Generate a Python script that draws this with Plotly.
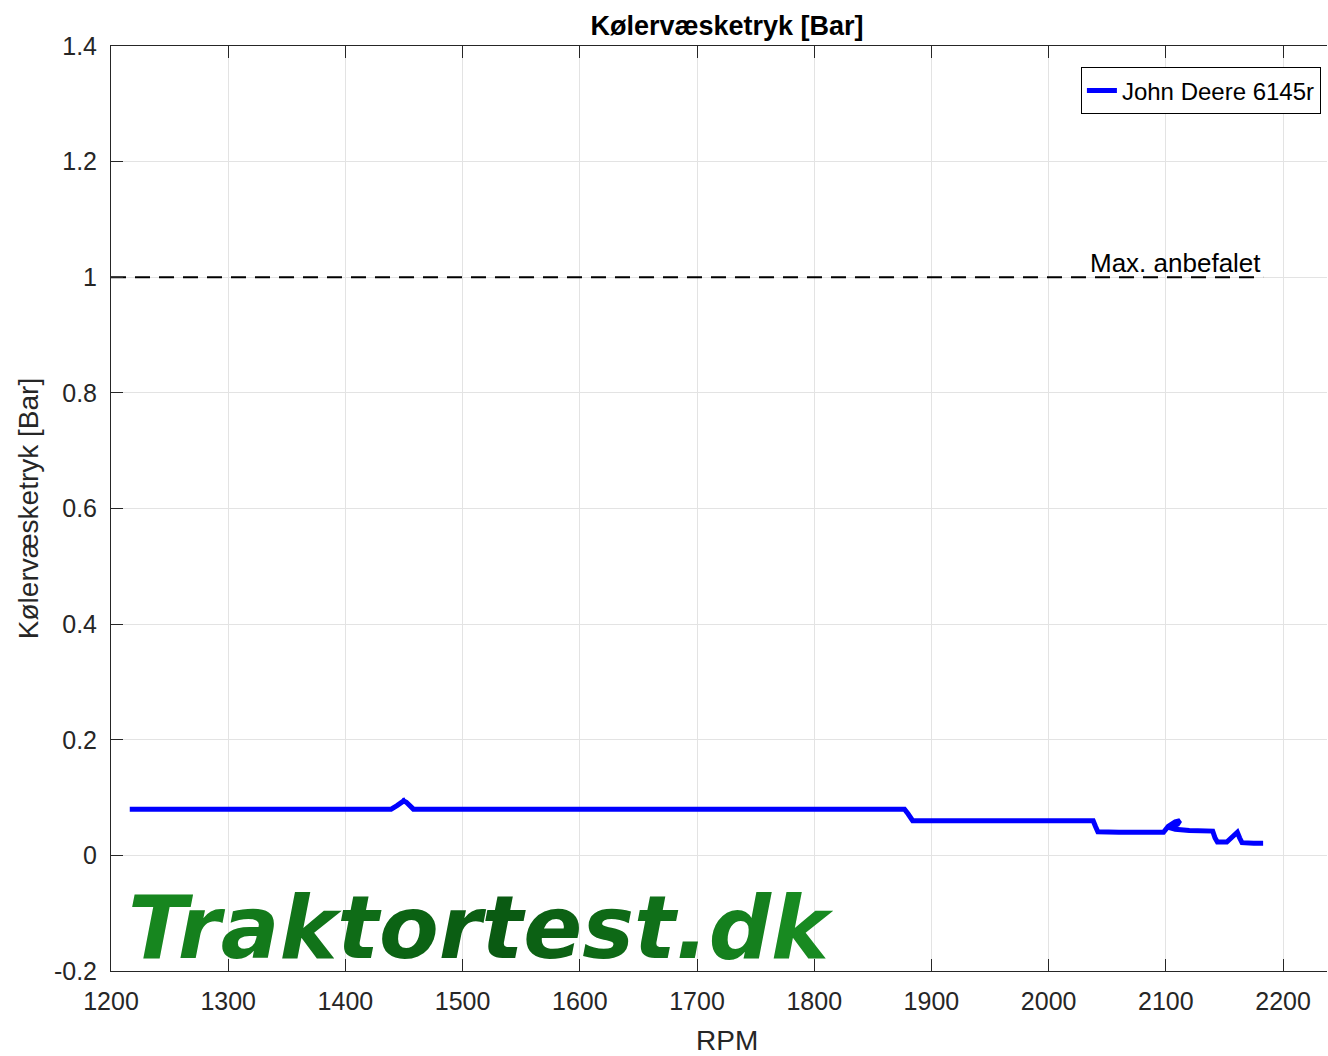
import plotly.graph_objects as go

# --- data ---
rpm = [1216, 1300, 1400, 1439, 1444, 1448, 1451, 1449, 1452, 1455, 1458, 1500, 1600, 1700, 1800,
       1877, 1880, 1884, 1900, 2000, 2038, 2040, 2042, 2060, 2080, 2098, 2102, 2108, 2112, 2110,
       2103, 2108, 2120, 2140, 2142, 2144, 2152, 2158, 2161, 2163, 2165, 2175, 2183]
pressure = [0.08, 0.08, 0.08, 0.08, 0.086, 0.093, 0.096, 0.095, 0.092, 0.085, 0.08, 0.08, 0.08, 0.08, 0.08,
            0.08, 0.072, 0.06, 0.06, 0.06, 0.06, 0.05, 0.041, 0.04, 0.04, 0.04, 0.05, 0.058, 0.06, 0.054,
            0.048, 0.045, 0.043, 0.042, 0.03, 0.023, 0.023, 0.033, 0.04, 0.03, 0.022, 0.021, 0.021]
limit_x = [1200, 2183]
limit_y = [1, 1]
series_name = "John Deere 6145r"
limit_label = "Max. anbefalet"
x_ticks = [1200, 1300, 1400, 1500, 1600, 1700, 1800, 1900, 2000, 2100, 2200]
y_ticks = [-0.2, 0, 0.2, 0.4, 0.6, 0.8, 1, 1.2, 1.4]
y_ticktext = ["-0.2", "0", "0.2", "0.4", "0.6", "0.8", "1", "1.2", "1.4"]
watermark = "Traktortest.dk"
wm_colors = ["#17861f", "#15801d", "#137a1b", "#117319", "#0f6c17", "#0c6314", "#0b5e13",
             "#0a5a12", "#0c6114", "#0e6916", "#107019", "#12781b", "#15801e", "#188a21"]

FONT = "Liberation Sans, Arial, sans-serif"
AX = "#262626"
CENTER_X = 0.5066  # centre of the (partly cropped) original axes

fig = go.Figure()
fig.add_trace(go.Scatter(x=limit_x, y=limit_y, mode="lines", showlegend=False,
                         line=dict(color="black", width=2, dash="15px,9px"), hoverinfo="skip"))
fig.add_trace(go.Scatter(x=rpm, y=pressure, mode="lines", name=series_name,
                         line=dict(color="#0000ff", width=5)))

wm_text = "".join(f'<span style="color:{c}">{ch}</span>' for ch, c in zip(watermark, wm_colors))
fig.add_annotation(text=wm_text, xref="paper", yref="y", x=0.012, y=-0.126,
                   xanchor="left", yanchor="middle", showarrow=False,
                   font=dict(family="DejaVu Sans", size=87, weight="bold", style="italic"))
fig.add_annotation(text=limit_label, xref="x", yref="y", x=limit_x[1], y=1,
                   xanchor="right", yanchor="bottom", showarrow=False, yshift=-3,
                   font=dict(family=FONT, size=26, color="black"))
fig.add_annotation(text="RPM", xref="paper", yref="paper", x=CENTER_X, y=0, yshift=-52,
                   xanchor="center", yanchor="top", showarrow=False,
                   font=dict(family=FONT, size=28, color=AX))

axis_common = dict(showline=True, linecolor=AX, linewidth=1, ticks="inside",
                   ticklen=12, tickcolor=AX, showgrid=True, gridcolor="#e3e3e3", gridwidth=1,
                   zeroline=False, tickfont=dict(family=FONT, size=25, color=AX))

fig.update_layout(
    width=1328, height=1056,
    margin=dict(l=111, r=1, t=46, b=85),
    paper_bgcolor="white", plot_bgcolor="white",
    title=dict(text="<b>Kølervæsketryk [Bar]</b>", xref="paper", x=CENTER_X, xanchor="center",
               y=0.985, yanchor="top", font=dict(family=FONT, size=27, color="black")),
    xaxis=dict(range=[1200, 2237.5], tickvals=x_ticks, ticklabelstandoff=8, mirror="ticks",
               **axis_common),
    yaxis=dict(range=[-0.2, 1.4], tickvals=y_ticks, ticktext=y_ticktext, ticklabelstandoff=8,
               mirror=False,
               title=dict(text="Kølervæsketryk [Bar]", font=dict(family=FONT, size=28, color=AX), standoff=7),
               **axis_common),
    legend=dict(x=0.995, xanchor="right", y=0.977, yanchor="top", bgcolor="white",
                bordercolor="black", borderwidth=1, font=dict(family=FONT, size=24, color="black")),
    showlegend=True,
)

fig.write_html("out.html", config={"displayModeBar": False},
               post_script="document.body.style.margin='0px';document.body.style.overflow='hidden';")
